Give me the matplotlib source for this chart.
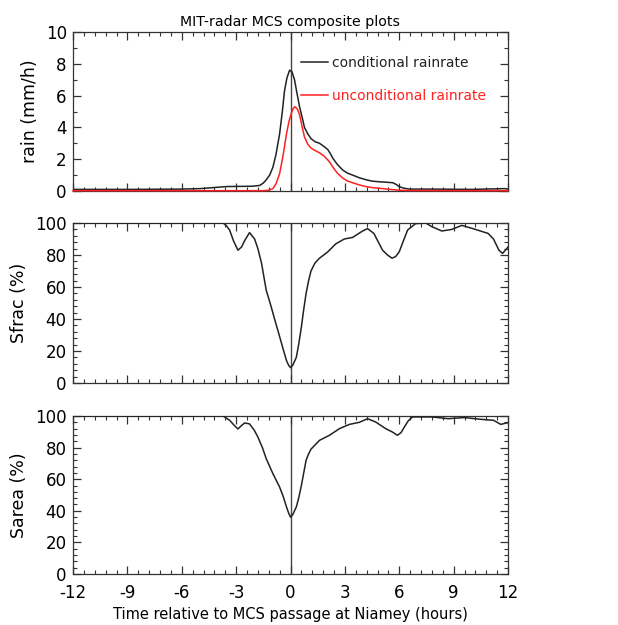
import matplotlib
matplotlib.use("Agg")
import matplotlib.pyplot as plt
from matplotlib.ticker import MultipleLocator, AutoMinorLocator

plt.rcParams['font.family'] = ['DejaVu Sans']

# ---- data ----
cond_t = [-12, -9, -6, -5, -3.5, -2.1, -1.7, -1.5, -1.34, -1.15, -0.97, -0.8,
          -0.6, -0.45, -0.33, -0.2, -0.05, 0.08, 0.22, 0.35, 0.5, 0.65, 0.77,
          0.95, 1.13, 1.35, 1.6, 1.85, 2.06, 2.2, 2.34, 2.6, 2.9, 3.15, 3.43,
          3.8, 4.2, 4.5, 4.9, 5.3, 5.65, 5.85, 6.0, 6.25, 6.55, 7.8, 10, 11.8, 12]
cond_r = [0.1, 0.1, 0.12, 0.15, 0.28, 0.3, 0.35, 0.5, 0.7, 1.0, 1.5, 2.3,
          3.6, 5.0, 6.3, 7.1, 7.6, 7.5, 7.0, 6.2, 5.3, 4.6, 4.0,
          3.6, 3.3, 3.1, 3.0, 2.8, 2.6, 2.35, 2.05, 1.65, 1.3, 1.12, 1.0,
          0.83, 0.7, 0.62, 0.58, 0.55, 0.52, 0.4, 0.27, 0.18, 0.12, 0.12, 0.1, 0.15, 0.12]

unc_t = [-12, -6, -1.5, -1.2, -0.97, -0.8, -0.6, -0.4, -0.22, -0.08, 0.05,
         0.15, 0.25, 0.38, 0.5, 0.63, 0.77, 0.95, 1.13, 1.35, 1.6, 1.85, 2.06,
         2.2, 2.34, 2.6, 2.9, 3.15, 3.43, 3.8, 4.2, 4.6, 5.1, 5.5, 6.0, 6.5, 12]
unc_r = [0.02, 0.02, 0.02, 0.05, 0.15, 0.45, 1.1, 2.3, 3.6, 4.4, 4.9,
         5.2, 5.3, 5.15, 4.8, 4.1, 3.4, 2.95, 2.7, 2.55, 2.4, 2.2, 1.95,
         1.75, 1.5, 1.1, 0.8, 0.62, 0.52, 0.38, 0.27, 0.2, 0.15, 0.1, 0.05, 0.03, 0.02]

sfrac_t = [-12, -3.72, -3.55, -3.36, -3.15, -2.9, -2.7, -2.53, -2.26, -1.98,
           -1.8, -1.6, -1.34, -1.1, -0.88, -0.7, -0.5, -0.35, -0.22, -0.1, 0.0,
           0.12, 0.32, 0.45, 0.6, 0.73, 0.86, 1.0, 1.13, 1.35, 1.6, 2.06, 2.5,
           2.97, 3.43, 3.7, 3.98, 4.25, 4.6, 4.85, 5.08, 5.35, 5.6, 5.8, 6.0,
           6.2, 6.46, 6.9, 7.46, 7.8, 8.35, 8.9, 9.45, 10.0, 10.9, 11.2, 11.5,
           11.7, 12]
sfrac_v = [100, 100, 98.5, 95.6, 89, 83, 85, 89, 94, 90,
           84, 75, 58, 49, 40, 33, 25, 19, 14, 11, 9.6,
           11, 16, 24, 35, 46, 56, 64, 70, 75, 78, 82, 87,
           90, 91, 93, 95, 96.5, 93.5, 88, 83, 80, 78, 79, 82,
           88, 95.6, 99.6, 100, 97.7, 95, 96, 98.5, 96.7, 93.5, 90, 83,
           81, 85]

sarea_t = [-12, -3.72, -3.36, -3.1, -2.9, -2.7, -2.53, -2.26, -2.0, -1.8,
           -1.55, -1.34, -0.97, -0.6, -0.4, -0.22, -0.1, 0.0, 0.12, 0.32,
           0.45, 0.6, 0.73, 0.86, 1.0, 1.13, 1.6, 2.15, 2.7, 3.25, 3.8, 4.25,
           4.7, 5.25, 5.6, 5.9, 6.1, 6.28, 6.5, 6.73, 7.8, 8.7, 9.6, 10.5,
           11.2, 11.6, 12]
sarea_v = [100, 100, 97.3, 94, 91.8, 94, 95.6, 95, 91, 86.7,
           80, 73, 63.5, 55, 49, 42.4, 38.5, 36, 37.5, 42.4,
           48, 56, 64, 72, 76, 79, 84.6, 87.8, 92, 94.7, 96, 98.3,
           96.2, 92, 90, 87.8, 89.5, 93, 97, 99.4, 99.4, 98.3, 99, 97.9,
           97.3, 94.7, 95.8]

xticks = [-12, -9, -6, -3, 0, 3, 6, 9, 12]

title = "MIT-radar MCS composite plots"
xlabel = "Time relative to MCS passage at Niamey (hours)"
ylabels = ["rain (mm/h)", "Sfrac (%)", "Sarea (%)"]
legend_labels = ["conditional rainrate", "unconditional rainrate"]

# ---- figure ----
fig = plt.figure(figsize=(6.18, 6.25), dpi=100)
W, H = 618.0, 625.0
left, right = 73 / W, 508 / W
boxes = [(32, 191), (223, 383), (416, 574)]
axes = []
for (top, bot) in boxes:
    ax = fig.add_axes([left, 1 - bot / H, right - left, (bot - top) / H])
    axes.append(ax)

spine_col = "#333333"
tick_fs = 12

for i, ax in enumerate(axes):
    ax.set_xlim(-12, 12)
    ax.xaxis.set_major_locator(MultipleLocator(3))
    ax.xaxis.set_minor_locator(AutoMinorLocator(5))
    if i == 0:
        ax.set_ylim(0, 10)
        ax.yaxis.set_major_locator(MultipleLocator(2))
        ax.yaxis.set_minor_locator(AutoMinorLocator(2))
    else:
        ax.set_ylim(0, 100)
        ax.yaxis.set_major_locator(MultipleLocator(20))
        ax.yaxis.set_minor_locator(AutoMinorLocator(5))
    ax.tick_params(which='both', direction='in', top=True, right=True,
                   colors=spine_col, labelcolor='black', labelsize=tick_fs)
    ax.tick_params(which='major', length=6, width=0.9)
    ax.tick_params(which='minor', length=3, width=0.8)
    ax.tick_params(axis='y', which='major', pad=4.5)
    ax.tick_params(axis='x', which='major', pad=7)
    for s in ax.spines.values():
        s.set_color(spine_col)
        s.set_linewidth(0.9)
    ax.axvline(0, color="#444444", lw=1.0, zorder=1)
    ax.set_ylabel(ylabels[i], fontsize=12.5, labelpad=5)
    ax.set_xticks(xticks)
    if i < 2:
        ax.set_xticklabels([])

axes[2].set_xticklabels([str(t) for t in xticks])

ax0 = axes[0]
ax0.plot(cond_t, cond_r, color="#222222", lw=1.1, label=legend_labels[0], zorder=3)
ax0.plot(unc_t, unc_r, color="#ff2020", lw=1.1, label=legend_labels[1], zorder=3.5,
         clip_on=False)
leg = ax0.legend(loc='upper left', bbox_to_anchor=(0.524, 0.852), frameon=False,
                 handlelength=1.95, handletextpad=0.3, labelspacing=1.4,
                 fontsize=10, borderpad=0, borderaxespad=0, labelcolor='linecolor')
ax0.set_title(title, fontsize=10.2, pad=4)

axes[1].plot(sfrac_t, sfrac_v, color="#222222", lw=1.1, zorder=3)
axes[2].plot(sarea_t, sarea_v, color="#222222", lw=1.1, zorder=3)
axes[2].set_xlabel(xlabel, fontsize=10.5, labelpad=4)

fig.savefig("out.png", dpi=100)
